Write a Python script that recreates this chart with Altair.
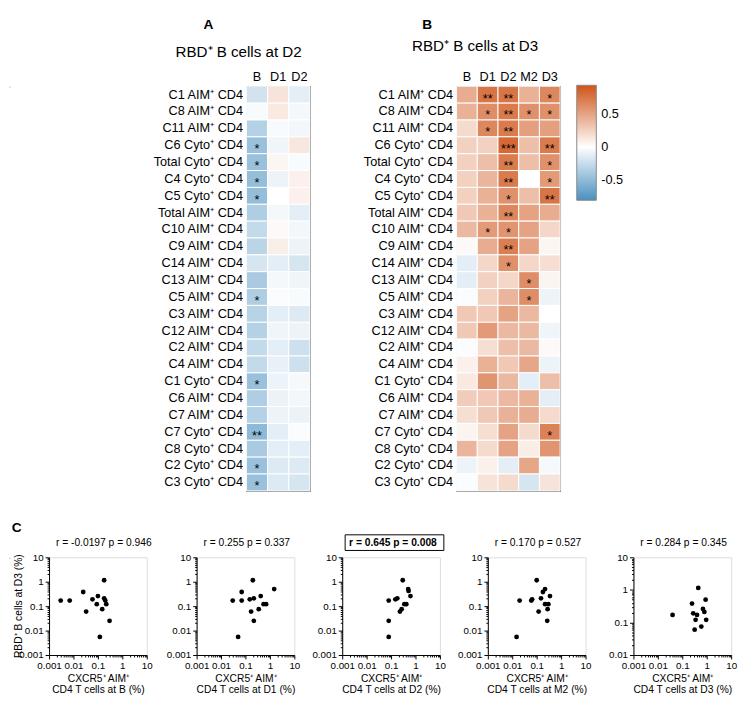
import altair as alt
import pandas as pd

FONT = "Liberation Sans"

# ---------------- heatmap data ----------------
rows = ["C1 AIM⁺ CD4", "C8 AIM⁺ CD4", "C11 AIM⁺ CD4", "C6 Cyto⁺ CD4", "Total Cyto⁺ CD4",
        "C4 Cyto⁺ CD4", "C5 Cyto⁺ CD4", "Total AIM⁺ CD4", "C10 AIM⁺ CD4", "C9 AIM⁺ CD4",
        "C14 AIM⁺ CD4", "C13 AIM⁺ CD4", "C5 AIM⁺ CD4", "C3 AIM⁺ CD4", "C12 AIM⁺ CD4",
        "C2 AIM⁺ CD4", "C4 AIM⁺ CD4", "C1 Cyto⁺ CD4", "C6 AIM⁺ CD4", "C7 AIM⁺ CD4",
        "C7 Cyto⁺ CD4", "C8 Cyto⁺ CD4", "C2 Cyto⁺ CD4", "C3 Cyto⁺ CD4"]

cols_A = ["B", "D1", "D2"]
A_B  = [-0.20, -0.03, -0.33, -0.45, -0.45, -0.47, -0.47, -0.35, -0.27, -0.30, -0.18, -0.38,
        -0.35, -0.32, -0.33, -0.27, -0.27, -0.45, -0.35, -0.33, -0.50, -0.38, -0.45, -0.45]
A_D1 = [0.15, 0.12, -0.03, -0.07, 0.05, -0.08, 0.00, -0.05, 0.03, 0.09, -0.12, -0.05,
        -0.02, -0.12, -0.07, -0.12, -0.10, -0.08, -0.09, -0.08, -0.12, -0.12, -0.15, -0.15]
A_D2 = [-0.12, -0.05, -0.06, 0.13, -0.03, 0.08, 0.08, -0.12, -0.06, -0.08, -0.18, -0.07,
        -0.03, -0.15, -0.08, -0.22, -0.22, -0.04, -0.06, -0.09, -0.02, -0.12, -0.15, -0.18]
A_star_B  = ["", "", "", "*", "*", "*", "*", "", "", "", "", "", "*", "", "", "", "", "*",
             "", "", "**", "", "*", "*"]
A_star_D1 = ["", "", "", "", "", "", "", "", "", "", "", "", "", "", "", "", "", "", "", "", "", "", "", ""]
A_star_D2 = ["", "", "", "", "", "", "", "", "", "", "", "", "", "", "", "", "", "", "", "", "", "", "", ""]

cols_B = ["B", "D1", "D2", "M2", "D3"]
B_B  = [0.45, 0.42, 0.20, 0.25, 0.25, 0.25, 0.25, 0.30, 0.38, 0.03, -0.12, -0.12,
        -0.02, 0.30, 0.30, -0.02, 0.08, 0.12, 0.28, 0.18, 0.06, 0.40, -0.08, -0.02]
B_D1 = [0.75, 0.62, 0.65, 0.25, 0.35, 0.40, 0.42, 0.42, 0.55, 0.45, 0.22, 0.25,
        0.25, 0.30, 0.55, 0.18, 0.42, 0.58, 0.30, 0.30, 0.18, 0.20, 0.08, 0.15]
B_D2 = [0.75, 0.72, 0.72, 0.82, 0.72, 0.72, 0.60, 0.65, 0.58, 0.70, 0.60, 0.22,
        0.40, 0.50, 0.38, 0.35, 0.30, 0.38, 0.38, 0.42, 0.50, 0.50, -0.12, 0.20]
B_M2 = [0.42, 0.60, 0.52, 0.35, 0.35, 0.00, 0.35, 0.50, 0.50, 0.50, 0.22, 0.62,
        0.62, 0.38, 0.38, 0.38, 0.48, -0.12, 0.42, 0.45, 0.20, 0.10, 0.48, -0.18]
B_D3 = [0.65, 0.60, 0.52, 0.72, 0.60, 0.55, 0.75, 0.45, 0.22, 0.05, 0.18, 0.06,
        -0.08, 0.00, -0.07, 0.03, -0.08, 0.35, -0.12, 0.20, 0.68, 0.58, -0.04, 0.15]
B_star_B  = ["", "", "", "", "", "", "", "", "", "", "", "", "", "", "", "", "", "", "", "", "", "", "", ""]
B_star_D1 = ["**", "*", "*", "", "", "", "", "", "*", "", "", "", "", "", "", "", "", "", "", "", "", "", "", ""]
B_star_D2 = ["**", "**", "**", "***", "**", "**", "*", "**", "*", "**", "*", "", "", "", "", "", "", "", "", "", "", "", "", ""]
B_star_M2 = ["", "*", "", "", "", "", "", "", "", "", "", "*", "*", "", "", "", "", "", "", "", "", "", "", ""]
B_star_D3 = ["*", "*", "", "**", "*", "*", "**", "", "", "", "", "", "", "", "", "", "", "", "", "", "*", "", "", ""]

legend_values = [-0.5, 0, 0.5]
C_LO, C_HI = -0.8, 0.93

# ---------------- scatter data ----------------
x_B  = [0.003, 0.007, 0.025, 0.033, 0.06, 0.09, 0.1, 0.12, 0.15, 0.18, 0.18, 0.2, 0.22, 0.3]
y_B  = [0.17, 0.17, 0.38, 0.06, 0.19, 0.12, 0.26, 0.0055, 0.075, 1.15, 0.21, 0.17, 0.12, 0.025]
x_D1 = [0.03, 0.07, 0.07, 0.05, 0.15, 0.17, 0.2, 0.22, 0.22, 0.35, 0.42, 0.55, 0.7, 1.5]
y_D1 = [0.17, 0.38, 0.17, 0.0055, 0.19, 0.06, 1.15, 0.21, 0.025, 0.075, 0.26, 0.12, 0.12, 0.5]
x_D2 = [0.08, 0.08, 0.08, 0.15, 0.18, 0.23, 0.27, 0.3, 0.35, 0.42, 0.5, 0.52, 0.62]
y_D2 = [0.17, 0.025, 0.0055, 0.19, 0.21, 0.06, 0.075, 1.15, 0.12, 0.12, 0.5, 0.42, 0.26]
x_M2 = [0.015, 0.02, 0.06, 0.065, 0.1, 0.12, 0.15, 0.18, 0.22, 0.22, 0.3, 0.35, 0.28, 0.27]
y_M2 = [0.0055, 0.17, 0.17, 0.19, 1.15, 0.06, 0.21, 0.38, 0.5, 0.12, 0.12, 0.26, 0.075, 0.025]
x_D3 = [0.04, 0.25, 0.28, 0.35, 0.32, 0.4, 0.45, 0.6, 0.7, 0.8, 0.9, 0.95]
y_D3 = [0.17, 0.38, 0.19, 0.12, 0.06, 0.17, 1.15, 0.075, 0.26, 0.21, 0.5, 0.12]

panel_days = ["B", "D1", "D2", "M2", "D3"]
panel_r = ["-0.0197", "0.255", "0.645", "0.170", "0.284"]
panel_p = ["0.946", "0.337", "0.008", "0.527", "0.345"]
panel_x = [x_B, x_D1, x_D2, x_M2, x_D3]
panel_y = [y_B, y_D1, y_D2, y_M2, y_D3]
panel_ymin = [0.001, 0.001, 0.001, 0.001, 0.01]

# ---------------- helpers ----------------
BLUE, WHITE, ORANGE = "#4a90c0", "#ffffff", "#cf5419"
cscale = alt.Scale(domain=[C_LO, 0, C_HI], range=[BLUE, WHITE, ORANGE], interpolate="rgb")
cleg = alt.Legend(orient="none", legendX=581, legendY=-1, direction="vertical", title=None,
                  gradientLength=(C_HI - C_LO) * 68, gradientThickness=20, values=legend_values,
                  labelFontSize=13, labelFont=FONT, labelColor="black", labelOffset=5,
                  gradientStrokeColor="#888", gradientStrokeWidth=1,
                  labelExpr="replace(format(datum.value, '~g'), '−', '-')")


def long_df(cols, vals, stars):
    recs = []
    for c, v, s in zip(cols, vals, stars):
        for r, vv, ss in zip(rows, v, s):
            recs.append({"row": r, "col": c, "r": vv, "star": ss})
    return pd.DataFrame(recs)


def txt(text, x, y, size, weight="normal", align="center", angle=0):
    return alt.Chart(pd.DataFrame({"t": [text]})).mark_text(
        fontSize=size, fontWeight=weight, font=FONT, align=align, baseline="middle",
        color="black", angle=angle).encode(x=alt.value(x), y=alt.value(y), text="t:N")


def spacer(x, y, opacity=1):
    return alt.Chart(pd.DataFrame({"t": [0]})).mark_rule(
        color="white", strokeWidth=1, strokeOpacity=opacity).encode(
        x=alt.value(x), x2=alt.value(x + 1), y=alt.value(y))


def dummy():
    return spacer(0, 0, opacity=0).properties(width=1, height=1)


def heatmap(df, cols, w, h, title, letter, tpos, lpos, sp):
    xs = alt.X("col:N", sort=cols, scale=alt.Scale(paddingInner=0, paddingOuter=0),
               axis=alt.Axis(orient="top", title=None, labelAngle=0, ticks=False, domain=False,
                             labelFontSize=13, labelPadding=3, labelFont=FONT, labelColor="black"))
    ys = alt.Y("row:N", sort=rows, scale=alt.Scale(paddingInner=0, paddingOuter=0),
               axis=alt.Axis(title=None, ticks=False, domain=False, labelFontSize=13, labelPadding=4,
                             labelFont=FONT, labelColor="black", labelLimit=300))
    rect = alt.Chart(df).mark_rect(stroke="white", strokeWidth=1).encode(
        x=xs, y=ys, color=alt.Color("r:Q", scale=cscale, legend=cleg))
    stars = alt.Chart(df).mark_text(fontSize=13, dy=4, font=FONT, color="black").encode(
        x=alt.X("col:N", sort=cols), y=alt.Y("row:N", sort=rows), text="star:N")
    return alt.layer(
        rect, stars,
        txt(title, tpos[0], tpos[1], 15.5),
        txt(letter, lpos[0], lpos[1], 14, weight="bold"),
        spacer(sp[0], sp[1]),
    ).properties(width=w, height=h, view=alt.ViewBackground(stroke="#555", strokeWidth=1.2))


dfA = long_df(cols_A, [A_B, A_D1, A_D2], [A_star_B, A_star_D1, A_star_D2])
dfB = long_df(cols_B, [B_B, B_D1, B_D2, B_M2, B_D3],
              [B_star_B, B_star_D1, B_star_D2, B_star_M2, B_star_D3])

heatA = heatmap(dfA, cols_A, 65, 414, "RBD⁺ B cells at D2", "A", (-8, -35), (-39, -63), (-229.5, -70.5))
heatB = heatmap(dfB, cols_B, 106, 414, "RBD⁺ B cells at D3", "B", (19, -41), (-30, -63), (-136.5, -70.5))

top = alt.hconcat(dummy(), heatA, heatB, spacing=10)

decade_test = "abs(log(datum.value)/LN10 - round(log(datum.value)/LN10)) < 0.001"


def log_ticks(lo, hi):
    vals = []
    e = lo
    while e < hi:
        for m in range(1, 10):
            vals.append(float(f"{m * e:.6g}"))
        e = float(f"{e * 10:.6g}")
    vals.append(hi)
    return vals


def log_axis(lo, hi, title=None):
    return alt.Axis(values=log_ticks(lo, hi), format="~g",
                    labelExpr=f"{decade_test} ? datum.label : ''",
                    tickSize={"condition": {"test": decade_test, "value": 4}, "value": 2},
                    labelFontSize=10, labelFont=FONT, labelColor="black", labelOverlap=False,
                    labelFlush=False, labelPadding=2, domainColor="black", tickColor="black",
                    grid=False, title=title, titleFontSize=10.5, titleFont=FONT,
                    titleFontWeight="normal", titleColor="black", titlePadding=3,
                    titleLineHeight=11)


panels = []
for i in range(5):
    df = pd.DataFrame({"x": panel_x[i], "y": panel_y[i]})
    pts = alt.Chart(df).mark_circle(size=24, color="black", opacity=1).encode(
        x=alt.X("x:Q", scale=alt.Scale(type="log", domain=[0.001, 10], nice=False),
                axis=log_axis(0.001, 10, ["CXCR5⁺ AIM⁺", f"CD4 T cells at {panel_days[i]} (%)"])),
        y=alt.Y("y:Q", scale=alt.Scale(type="log", domain=[panel_ymin[i], 10], nice=False),
                axis=log_axis(panel_ymin[i], 10)),
    )
    weight = "bold" if i == 2 else "normal"
    layers = [pts, txt(f"r = {panel_r[i]}   p = {panel_p[i]}", 7, -15, 10.5, weight=weight, align="left")]
    if i == 2:
        box = alt.Chart(pd.DataFrame({"t": [0]})).mark_rect(
            fill="white", fillOpacity=0, stroke="black", strokeWidth=1).encode(
            x=alt.value(3), x2=alt.value(104), y=alt.value(-23), y2=alt.value(-7))
        layers.append(box)
    if i == 0:
        layers.append(txt("RBD⁺ B cells at D3 (%)", -31, 50, 10.5, angle=270))
        layers.append(txt("C", -33, -30, 14, weight="bold"))
    layers.append(spacer(-37.5, -40))
    if i < 4:
        layers.append(spacer(107.5, -40))
    panels.append(alt.layer(*layers).properties(width=100, height=100))

bottom = alt.hconcat(dummy(), *panels, spacing=0)

chart = alt.vconcat(top, bottom, spacing=24).properties(padding=0).configure_view(
    strokeWidth=0).configure(font=FONT)

chart.save("out.html", embed_options={"renderer": "svg", "actions": False})
